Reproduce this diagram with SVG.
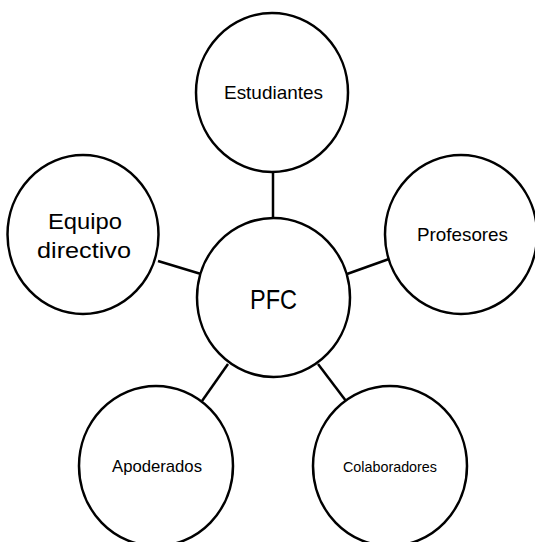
<svg xmlns="http://www.w3.org/2000/svg" width="535" height="542" viewBox="0 0 535 542">
<style>
.node{fill:#fff;stroke:#000;stroke-width:2.5}
.conn{stroke:#000;stroke-width:2.5;fill:none}
text{font-family:"Liberation Sans",Arial,sans-serif;fill:#000;text-anchor:middle}
</style>
<rect width="535" height="542" fill="#fff"/>
<g id="connectors">
<line class="conn" x1="273" y1="172" x2="273" y2="219"/>
<line class="conn" x1="158" y1="261" x2="201" y2="274"/>
<line class="conn" x1="389" y1="259" x2="347" y2="274"/>
<line class="conn" x1="228" y1="364" x2="202" y2="401"/>
<line class="conn" x1="318" y1="364" x2="346" y2="401"/>
</g>
<g id="estudiantes">
<ellipse class="node" cx="272" cy="92.5" rx="76" ry="79.5"/>
<text x="273.5" y="99" font-size="19" textLength="99" lengthAdjust="spacingAndGlyphs">Estudiantes</text>
</g>
<g id="equipo-directivo">
<ellipse class="node" cx="83" cy="234.5" rx="75.5" ry="79.5"/>
<text x="85" y="229" font-size="22" textLength="74" lengthAdjust="spacingAndGlyphs">Equipo</text>
<text x="84" y="258" font-size="22" textLength="94" lengthAdjust="spacingAndGlyphs">directivo</text>
</g>
<g id="profesores">
<ellipse class="node" cx="461" cy="234.5" rx="76" ry="79.5"/>
<text x="462.5" y="241" font-size="18.6" textLength="91" lengthAdjust="spacingAndGlyphs">Profesores</text>
</g>
<g id="pfc">
<ellipse class="node" cx="273.5" cy="297.5" rx="76.5" ry="79.5"/>
<text x="273.5" y="309" font-size="28" textLength="47" lengthAdjust="spacingAndGlyphs">PFC</text>
</g>
<g id="apoderados">
<ellipse class="node" cx="156" cy="466" rx="77" ry="80"/>
<text x="157" y="472" font-size="17" textLength="90" lengthAdjust="spacingAndGlyphs">Apoderados</text>
</g>
<g id="colaboradores">
<ellipse class="node" cx="390" cy="466" rx="77" ry="80"/>
<text x="390" y="472" font-size="14.8" textLength="94" lengthAdjust="spacingAndGlyphs">Colaboradores</text>
</g>
</svg>
